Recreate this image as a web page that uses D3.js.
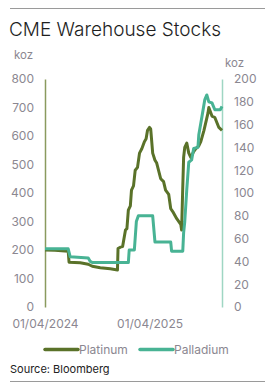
<!DOCTYPE html>
<html><head><meta charset="utf-8">
<script src="https://cdn.jsdelivr.net/npm/d3@7"></script>
<style>
html,body{margin:0;padding:0;background:#fff;}
svg{display:block;font-family:Inter,"Noto Sans",sans-serif;}
</style></head>
<body><svg id="c" width="271" height="388"></svg>
<script>
const title = "CME Warehouse Stocks";
const source = "Source: Bloomberg";
const seriesNames = ["Platinum", "Palladium"];
const leftTicks = [0,100,200,300,400,500,600,700,800];
const rightTicks = [0,20,40,60,80,100,120,140,160,180,200];
const xTickDates = ["2024-04-01","2025-04-01"];
const xTickLabels = ["01/04/2024","01/04/2025"];
const xDomain = ["2024-04-01","2025-12-10"];

const platinumDates = ["2024-04-01","2024-05-06","2024-06-21","2024-06-24","2024-08-02","2024-08-30","2024-09-13","2024-10-11","2024-11-15","2024-12-10","2024-12-12","2024-12-20","2024-12-28","2025-01-07","2025-01-12","2025-01-17","2025-01-24","2025-01-28","2025-02-04","2025-02-10","2025-02-18","2025-02-25","2025-03-05","2025-03-14","2025-03-20","2025-03-25","2025-04-01","2025-04-05","2025-04-12","2025-04-20","2025-04-26","2025-05-10","2025-05-20","2025-05-27","2025-06-07","2025-06-14","2025-06-21","2025-07-05","2025-07-19","2025-07-22","2025-07-26","2025-07-29","2025-08-02","2025-08-09","2025-08-16","2025-08-23","2025-09-02","2025-09-09","2025-09-20","2025-09-27","2025-10-08","2025-10-22","2025-10-25","2025-11-05","2025-11-15","2025-11-29","2025-12-10"];
const platinumValues = [200,199,196,157,155,150,143,138,134,130,205,210,212,270,275,340,355,410,425,480,490,540,555,580,590,620,630,625,540,515,505,450,440,410,395,345,335,310,290,270,420,525,560,575,540,525,545,555,565,580,620,680,700,670,665,630,620,615];

const palladiumDates = ["2024-04-01","2024-06-21","2024-06-28","2024-08-30","2024-09-06","2024-09-13","2025-01-17","2025-01-20","2025-02-07","2025-02-14","2025-02-21","2025-04-12","2025-04-20","2025-06-14","2025-06-17","2025-07-26","2025-07-29","2025-08-02","2025-08-09","2025-08-16","2025-08-26","2025-09-02","2025-09-17","2025-09-20","2025-10-01","2025-10-11","2025-10-18","2025-10-25","2025-11-05","2025-11-15","2025-12-04","2025-12-10"];
const palladiumValues = [51,51,44,43,40,39,39,50,50,75,80,80,57,57,49,49,65,75,103,127,129,139,140,151,167,182,186,180,179,173,173,176];

const parse = d3.timeParse("%Y-%m-%d");
const plat = platinumDates.map((d,i)=>({date:parse(d), v:platinumValues[i]}));
const pall = palladiumDates.map((d,i)=>({date:parse(d), v:palladiumValues[i]}));

const colPlat = "#5a7229", colPall = "#48b394";
const labelCol = "#8b8791";
const svg = d3.select("#c");

const x = d3.scaleTime().domain(xDomain.map(parse)).range([45, 222]);
const yL = d3.scaleLinear().domain([0,800]).range([307, 79]);
const yR = d3.scaleLinear().domain([0,200]).range([307, 79]);

// rules
svg.append("line").attr("x1",10).attr("x2",265).attr("y1",8.5).attr("y2",8.5).attr("stroke","#9a9a9a").attr("stroke-width",1);
svg.append("line").attr("x1",10).attr("x2",265).attr("y1",381.5).attr("y2",381.5).attr("stroke","#9a9a9a").attr("stroke-width",1);

svg.append("text").attr("x",9).attr("y",36).text(title)
  .attr("font-size",19).attr("font-weight",300).attr("fill","#1e1e1e");

svg.append("text").attr("x",14).attr("y",59).text("koz").attr("font-size",11.5).attr("fill",labelCol);
svg.append("text").attr("x",225).attr("y",67).text("koz").attr("font-size",11.5).attr("fill",labelCol);

// left axis
const gL = svg.append("g").attr("transform","translate(45,0)")
  .call(d3.axisLeft(yL).tickValues(leftTicks).tickSize(0).tickPadding(11));
gL.select(".domain").attr("stroke","#8a9a5e").attr("stroke-width",1.5);
gL.selectAll("text").attr("font-size",12).attr("fill",labelCol).attr("font-family","Inter,sans-serif");

// right axis
const gR = svg.append("g").attr("transform","translate(222,0)")
  .call(d3.axisRight(yR).tickValues(rightTicks).tickSize(0).tickPadding(12));
gR.select(".domain").attr("stroke","#9fd6c3").attr("stroke-width",1.5);
gR.selectAll("text").attr("font-size",12).attr("fill",labelCol).attr("font-family","Inter,sans-serif");

// x axis labels
const gX = svg.append("g").attr("transform","translate(0,307)")
  .call(d3.axisBottom(x).tickValues(xTickDates.map(parse)).tickSize(0).tickPadding(12)
    .tickFormat((d,i)=>xTickLabels[i]));
gX.select(".domain").remove();
gX.selectAll("text").attr("font-size",12).attr("fill",labelCol).attr("font-family","Inter,sans-serif");

const lineL = d3.line().x(d=>x(d.date)).y(d=>yL(d.v));
const lineR = d3.line().x(d=>x(d.date)).y(d=>yR(d.v));

svg.append("path").datum(plat).attr("d",lineL).attr("fill","none").attr("stroke",colPlat).attr("stroke-width",3).attr("stroke-linejoin","round");
svg.append("path").datum(pall).attr("d",lineR).attr("fill","none").attr("stroke",colPall).attr("stroke-width",3).attr("stroke-linejoin","round");

// legend
const leg = svg.append("g");
[[45,colPlat,seriesNames[0]],[140,colPall,seriesNames[1]]].forEach(([lx,c,t])=>{
  leg.append("line").attr("x1",lx).attr("x2",lx+33).attr("y1",349.5).attr("y2",349.5).attr("stroke",c).attr("stroke-width",3.5).attr("stroke-linecap","round");
  leg.append("text").attr("x",lx+34).attr("y",354).text(t).attr("font-size",12).attr("fill",labelCol);
});

svg.append("text").attr("x",10).attr("y",373).text(source).attr("font-size",11).attr("fill","#222");
</script></body></html>
